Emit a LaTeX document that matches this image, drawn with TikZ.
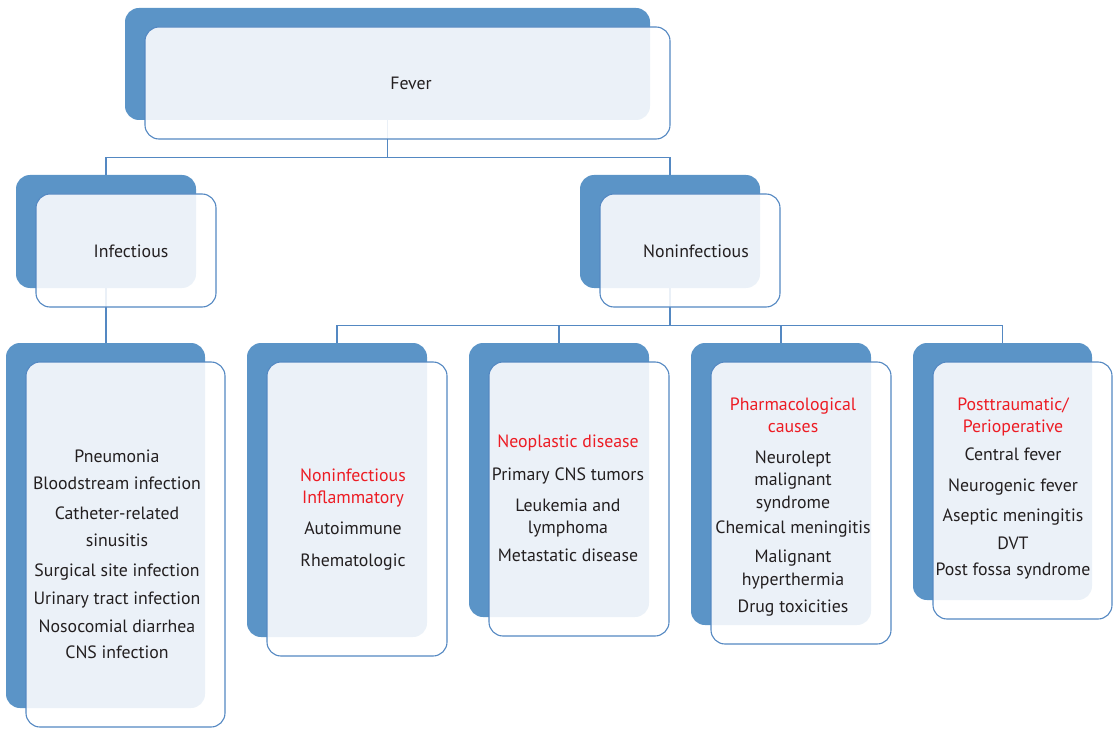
\documentclass[tikz,border=0pt]{standalone}
\usepackage{fontspec}
\setmainfont{PT Sans}
\usetikzlibrary{positioning}
\definecolor{boxblue}{RGB}{91,148,199}
\definecolor{lineblue}{RGB}{84,136,194}
\definecolor{headred}{RGB}{237,28,36}
\definecolor{textgray}{RGB}{35,31,32}

\begin{document}
\begin{tikzpicture}[x=1pt,y=-1pt,on grid,
  back/.style={rectangle,rounded corners=14pt,fill=boxblue,inner sep=0pt},
  front/.style={rectangle,rounded corners=14pt,draw=lineblue,line width=1.1pt,
    fill=white,fill opacity=0.88,inner sep=0pt},
  link/.style={draw=lineblue,line width=1.1pt},
  txt/.style={align=center,text=textgray,inner sep=0pt,font=\fontsize{17.8}{22}\selectfont},
  head/.style={text=headred}]
  \useasboundingbox (0,0) rectangle (1114,730);

  \node[back,minimum width=525pt,minimum height=112pt] (fever) at (387.5,64) {};
  \node[back,minimum width=180pt,minimum height=113pt] (infect) at (106,231.5) {};
  \node[back,minimum width=180pt,minimum height=113pt] (noninf) at (670,231.5) {};
  \node[back,minimum width=199pt,minimum height=365pt] (hosp) at (105.5,525.5) {};
  \node[back,minimum width=180pt,minimum height=294pt] (inflam) at (337,490) {};
  \node[back,minimum width=180pt,minimum height=274pt] (neo) at (559,480) {};
  \node[back,minimum width=180pt,minimum height=282pt] (pharm) at (781,484) {};
  \node[back,minimum width=179pt,minimum height=257pt] (trauma) at (1002.5,471.5) {};

  \draw[link] (fever.south) -- ++(0,37) -| (infect.north);
  \draw[link] (fever.south) -- ++(0,37) -| (noninf.north);
  \draw[link] (infect.south) -- (infect.south |- hosp.north);
  \draw[link] (noninf.south) -- ++(0,37) -| (inflam.north);
  \draw[link] (noninf.south) -- ++(0,37) -| (neo.north);
  \draw[link] (noninf.south) -- ++(0,37) -| (pharm.north);
  \draw[link] (noninf.south) -- ++(0,37) -| (trauma.north);

  \node[front,minimum width=525pt,minimum height=112pt] (fever-f) [below right=19pt and 20pt of fever] {};
  \node[front,minimum width=180pt,minimum height=113pt] (infect-f) [below right=19pt and 20pt of infect] {};
  \node[front,minimum width=180pt,minimum height=113pt] (noninf-f) [below right=19pt and 20pt of noninf] {};
  \node[front,minimum width=199pt,minimum height=365pt] (hosp-f) [below right=19pt and 20pt of hosp] {};
  \node[front,minimum width=180pt,minimum height=294pt] (inflam-f) [below right=19pt and 20pt of inflam] {};
  \node[front,minimum width=180pt,minimum height=274pt] (neo-f) [below right=19pt and 20pt of neo] {};
  \node[front,minimum width=180pt,minimum height=282pt] (pharm-f) [below right=19pt and 20pt of pharm] {};
  \node[front,minimum width=179pt,minimum height=257pt] (trauma-f) [below right=19pt and 20pt of trauma] {};

  \node[txt] (fever-t) at (411,83) {Fever};
  \node[txt] (infect-t) at (131,251) {Infectious};
  \node[txt] (noninf-t) at (696,251) {Noninfectious};
  \node[txt] (hosp-t) at (117,554) {Pneumonia\\[5pt] Bloodstream infection\\[8pt]
    Catheter-related\\[5pt] sinusitis\\[8pt] Surgical site infection\\[6pt]
    Urinary tract infection\\[6pt] Nosocomial diarrhea\\[4pt] CNS infection};
  \node[txt] (inflam-t) at (353,520) {\textcolor{headred}{Noninfectious}\\
    \textcolor{headred}{Inflammatory}\\[9pt] Autoimmune\\[10pt] Rhematologic};
  \node[txt] (neo-t) at (568,498) {\textcolor{headred}{Neoplastic disease}\\[11pt]
    Primary CNS tumors\\[9pt] Leukemia and\\ lymphoma\\[6pt] Metastatic disease};
  \node[txt] (pharm-t) at (793,507) {\textcolor{headred}{Pharmacological}\\
    \textcolor{headred}{causes}\\[9pt] Neurolept\\ malignant\\[1pt] syndrome\\[3pt]
    Chemical meningitis\\[7pt] Malignant\\[1pt] hyperthermia\\[5pt] Drug toxicities};
  \node[txt] (trauma-t) at (1013,488) {\textcolor{headred}{Posttraumatic/}\\
    \textcolor{headred}{Perioperative}\\[6pt] Central fever\\[9pt] Neurogenic fever\\[8pt]
    Aseptic meningitis\\[6pt] DVT\\[4pt] Post fossa syndrome};
\end{tikzpicture}
\end{document}
